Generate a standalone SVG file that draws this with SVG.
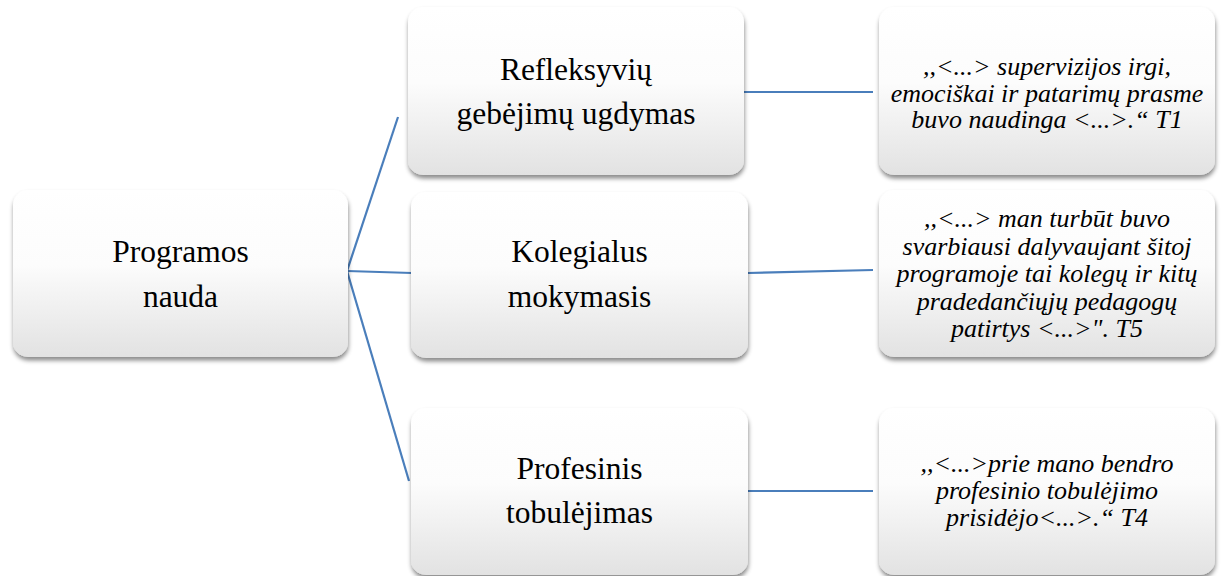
<svg xmlns="http://www.w3.org/2000/svg" width="1225" height="576" viewBox="0 0 1225 576">
  <defs>
    <linearGradient id="boxFill" x1="0" y1="0" x2="0" y2="1">
      <stop offset="0" stop-color="#ffffff"/>
      <stop offset="0.45" stop-color="#fcfcfc"/>
      <stop offset="1" stop-color="#e2e2e2"/>
    </linearGradient>
    <filter id="shadow" x="-10%" y="-10%" width="120%" height="125%">
      <feDropShadow dx="0.5" dy="3.5" stdDeviation="2.2" flood-color="#000000" flood-opacity="0.45"/>
    </filter>
    <style>
      .box { fill: url(#boxFill); filter: url(#shadow); }
      .lbl { font-size: 31.5px; fill: #000; text-anchor: middle; }
      .quote { font-size: 26px; font-style: italic; fill: #000; text-anchor: middle; }
      .conn { stroke: #4a7ebb; stroke-width: 2.2; fill: none; stroke-linecap: butt; }
    </style>
  </defs>

  <rect width="1225" height="576" fill="#ffffff"/>

  <!-- connectors -->
  <g id="connectors">
    <line class="conn" x1="347" y1="271" x2="398" y2="117"/>
    <line class="conn" x1="347" y1="271" x2="412" y2="273"/>
    <line class="conn" x1="347" y1="271" x2="409" y2="481"/>
    <line class="conn" x1="744" y1="92" x2="873" y2="92"/>
    <line class="conn" x1="748" y1="273" x2="873" y2="270"/>
    <line class="conn" x1="748" y1="491" x2="873" y2="491"/>
  </g>

  <g font-family="Liberation Serif, Times New Roman, DejaVu Serif, serif">
    <!-- root node -->
    <g id="node-programos-nauda">
      <rect class="box" x="13" y="190" width="335" height="167" rx="15"/>
      <text class="lbl" x="180.5" y="262">Programos</text>
      <text class="lbl" x="180.5" y="307">nauda</text>
    </g>

    <!-- second level -->
    <g id="node-refleksyviu">
      <rect class="box" x="408" y="7" width="336" height="168" rx="15"/>
      <text class="lbl" x="576" y="80">Refleksyvių</text>
      <text class="lbl" x="576" y="124">gebėjimų ugdymas</text>
    </g>

    <g id="node-kolegialus">
      <rect class="box" x="411" y="192" width="337" height="166" rx="15"/>
      <text class="lbl" x="579.5" y="262">Kolegialus</text>
      <text class="lbl" x="579.5" y="307">mokymasis</text>
    </g>

    <g id="node-profesinis">
      <rect class="box" x="411" y="408" width="337" height="167" rx="15"/>
      <text class="lbl" x="579.5" y="479">Profesinis</text>
      <text class="lbl" x="579.5" y="523">tobulėjimas</text>
    </g>

    <!-- quotes -->
    <g id="node-quote-t1">
      <rect class="box" x="879" y="7" width="336" height="168" rx="15"/>
      <text class="quote" x="1047" y="75">,,&lt;...&gt; supervizijos irgi,</text>
      <text class="quote" x="1047" y="101.5">emociškai ir patarimų prasme</text>
      <text class="quote" x="1047" y="128">buvo naudinga &lt;...&gt;.“ T1</text>
    </g>

    <g id="node-quote-t5">
      <rect class="box" x="879" y="190" width="336" height="167" rx="15"/>
      <text class="quote" x="1047" y="227">,,&lt;...&gt; man turbūt buvo</text>
      <text class="quote" x="1047" y="254.5">svarbiausi dalyvaujant šitoj</text>
      <text class="quote" x="1047" y="282">programoje tai kolegų ir kitų</text>
      <text class="quote" x="1047" y="309.5">pradedančiųjų pedagogų</text>
      <text class="quote" x="1047" y="337">patirtys &lt;...&gt;". T5</text>
    </g>

    <g id="node-quote-t4">
      <rect class="box" x="879" y="408" width="336" height="167" rx="15"/>
      <text class="quote" x="1047" y="472">,,&lt;...&gt;prie mano bendro</text>
      <text class="quote" x="1047" y="499">profesinio tobulėjimo</text>
      <text class="quote" x="1047" y="526">prisidėjo&lt;...&gt;.“ T4</text>
    </g>
  </g>
</svg>
